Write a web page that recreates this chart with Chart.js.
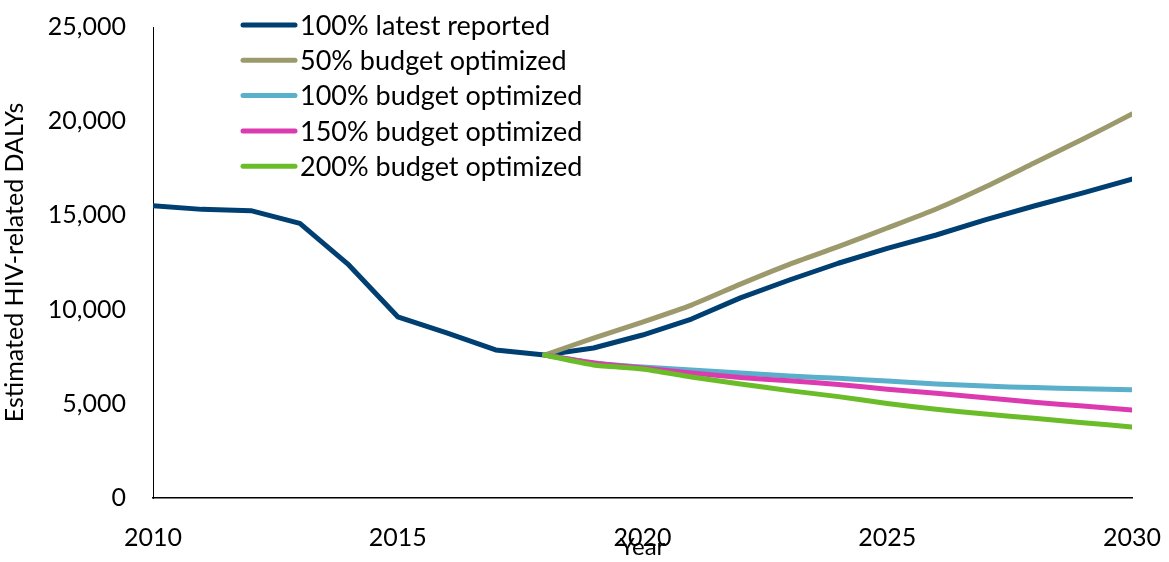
<!DOCTYPE html>
<html>
<head>
<meta charset="utf-8">
<script src="https://cdn.jsdelivr.net/npm/chart.js@4.4.1/dist/chart.umd.min.js"></script>
<style>
  html,body{margin:0;padding:0;background:#fff;}
  #wrap{width:1169px;height:562px;position:relative;}
</style>
</head>
<body>
<div id="wrap"><canvas id="c"></canvas></div>
<script>
/* HIV-related DALYs projections */
const years = [2010,2011,2012,2013,2014,2015,2016,2017,2018,2019,2020,2021,2022,2023,2024,2025,2026,2027,2028,2029,2030];
const projYears = years.slice(8);

const latestReported = [15510,15320,15250,14580,12370,9620,8760,7860,7590,7960,8650,9500,10620,11570,12460,13250,13960,14760,15500,16200,16930];
const budget50  = [7590,8490,9340,10240,11350,12400,13340,14330,15340,16510,17780,19050,20380];
const budget100 = [7590,7170,6950,6790,6630,6480,6350,6210,6050,5940,5860,5800,5750];
const budget150 = [7590,7170,6900,6630,6400,6220,6030,5770,5560,5320,5080,4880,4670];
const budget200 = [7590,7060,6850,6420,6050,5700,5380,5020,4710,4460,4230,4000,3770];

const yTicks = [0,5000,10000,15000,20000,25000];
const xTicks = [2010,2015,2020,2025,2030];

const FONT = "Lato, 'Liberation Sans', sans-serif";

function pts(xs, ys){ return xs.map((x,i)=>({x:x, y:ys[i]})); }

function line(label, xs, ys, color, order, tension){
  return {label, data:pts(xs,ys), borderColor:color, backgroundColor:color,
    borderWidth:5, pointRadius:0, tension, borderCapStyle:"round", borderJoinStyle:"round", order};
}

// scale label overhang would push the plot inwards; the layout padding handles it instead
function noOverhang(s){ s.paddingTop = 0; s.paddingBottom = 0; s.paddingLeft = 0; s.paddingRight = 0; }

// legend drawn by hand at the upper left of the plot
const legendPlugin = {
  id:"sideLegend",
  afterDraw(chart){
    const ctx = chart.ctx;
    const ds = chart.data.datasets;
    const x0 = 243, y0 = 25, gap = 35.3;
    ctx.save();
    ctx.font = "27px " + FONT;
    ctx.textBaseline = "middle";
    ctx.lineCap = "round";
    ds.forEach((d,i)=>{
      const y = y0 + i*gap;
      ctx.strokeStyle = d.borderColor; ctx.lineWidth = 5;
      ctx.beginPath(); ctx.moveTo(x0, y); ctx.lineTo(x0+52, y); ctx.stroke();
      ctx.fillStyle = "#000";
      ctx.fillText(d.label, x0+57, y+1);
    });
    ctx.restore();
  }
};

new Chart(document.getElementById("c"), {
  type:"line",
  data:{
    datasets:[
      line("100% latest reported", years, latestReported, "#003f72", 4, 0),
      line("50% budget optimized", projYears, budget50, "#9c9a6c", 3, 0.2),
      line("100% budget optimized", projYears, budget100, "#5aafca", 2, 0.2),
      line("150% budget optimized", projYears, budget150, "#dc3bb0", 1, 0.2),
      line("200% budget optimized", projYears, budget200, "#6abd28", 0, 0.2)
    ]
  },
  options:{
    responsive:true, maintainAspectRatio:false, animation:false,
    layout:{padding:{left:0,right:37,top:27,bottom:0}},
    plugins:{legend:{display:false}, tooltip:{enabled:false}},
    scales:{
      x:{type:"linear", min:2010, max:2030,
        afterBuildTicks(s){ s.ticks = xTicks.map(v=>({value:v})); },
        afterFit(s){ s.height = 64; noOverhang(s); },
        grid:{display:false, drawTicks:false},
        border:{display:true, color:"#000", width:1.5},
        ticks:{padding:25, color:"#000", font:{family:FONT, size:25}, maxRotation:0, callback:v=>String(v)},
        title:{display:true, text:"Year", color:"#000", font:{family:FONT, size:24}, padding:{top:-14,bottom:0}}
      },
      y:{min:0, max:25000,
        afterBuildTicks(s){ s.ticks = yTicks.map(v=>({value:v})); },
        afterFit(s){ s.width = 153; noOverhang(s); },
        grid:{display:false, drawTicks:false},
        border:{display:true, color:"#000", width:1},
        ticks:{padding:27, color:"#000", font:{family:FONT, size:25}, callback:v=>v.toLocaleString("en-US")},
        title:{display:true, text:"Estimated HIV-related DALYs", color:"#000", font:{family:FONT, size:25}, padding:{top:0,bottom:0}}
      }
    }
  },
  plugins:[legendPlugin]
});
</script>
</body>
</html>
